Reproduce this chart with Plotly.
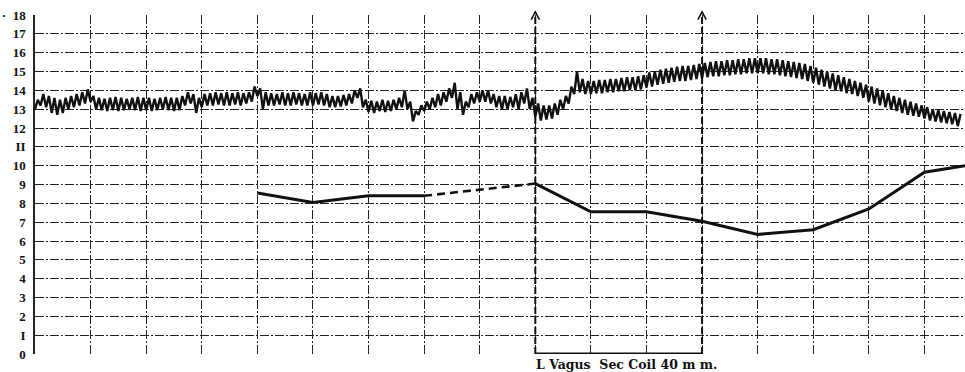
import numpy as np
import plotly.graph_objects as go

# ---- data ----
y_ticks = list(range(0, 19))
y_tick_text = ["0", "I", "2", "3", "4", "5", "6", "7", "8", "9", "10", "II", "12", "13", "14", "15", "16", "17", "·  18"]

# pulse tracing: troughs and crests, ten oscillations per grid unit
pulse_lows = [
    13.0, 13.2, 13.1, 12.8, 12.7, 12.8, 13.0, 13.1, 13.2, 13.3,
    13.4, 13.0, 12.95, 12.9, 12.95, 12.9, 12.95, 13.0, 12.95, 12.9,
    12.95, 12.9, 12.95, 13.0, 12.95, 12.9, 12.95, 13.2, 13.3, 12.8,
    13.1, 13.2, 13.2, 13.25, 13.2, 13.2, 13.25, 13.2, 13.3, 13.4,
    13.7, 13.0, 13.2, 13.2, 13.25, 13.2, 13.2, 13.25, 13.2, 13.2,
    13.2, 13.25, 13.2, 13.1, 13.1, 13.15, 13.2, 13.3, 13.6, 13.1,
    12.85, 12.8, 12.9, 12.85, 12.9, 13.0, 13.1, 13.0, 12.35, 12.7,
    12.9, 13.0, 13.1, 13.2, 13.4, 13.6, 13.0, 12.7, 13.1, 13.3,
    13.4, 13.4, 13.3, 13.1, 13.0, 13.0, 13.1, 13.0, 13.3, 13.0,
    12.6, 12.4, 12.45, 12.5, 12.7, 13.0, 13.3, 13.8, 13.9, 13.8,
    13.8, 13.85, 13.85, 13.9, 13.9, 13.95, 13.95, 14.0, 14.0, 14.05,
    14.15, 14.2, 14.3, 14.35, 14.4, 14.45, 14.5, 14.5, 14.55, 14.6,
    14.65, 14.7, 14.75, 14.75, 14.8, 14.8, 14.85, 14.85, 14.9, 14.9,
    14.9, 14.9, 14.85, 14.85, 14.8, 14.75, 14.7, 14.65, 14.6, 14.5,
    14.4, 14.3, 14.2, 14.1, 14.0, 13.95, 13.85, 13.8, 13.7, 13.6,
    13.4, 13.3, 13.2, 13.1, 13.0, 12.9, 12.8, 12.7, 12.65, 12.6,
    12.5, 12.4, 12.35, 12.3, 12.25, 12.2, 12.1,
]
pulse_highs = [
    13.5, 13.8, 13.7, 13.6, 13.5, 13.6, 13.7, 13.8, 13.9, 14.05,
    13.7, 13.6, 13.55, 13.6, 13.65, 13.6, 13.55, 13.6, 13.65, 13.6,
    13.6, 13.55, 13.6, 13.65, 13.6, 13.6, 13.7, 13.9, 13.8, 13.6,
    13.8, 13.85, 13.9, 13.85, 13.9, 13.85, 13.9, 13.85, 13.9, 14.2,
    14.1, 13.9, 13.85, 13.8, 13.9, 13.85, 13.9, 13.85, 13.8, 13.9,
    13.85, 13.9, 13.8, 13.7, 13.7, 13.75, 13.8, 14.0, 14.1, 13.5,
    13.45, 13.4, 13.5, 13.45, 13.5, 13.6, 14.0, 13.4, 12.9, 13.2,
    13.4, 13.6, 13.8, 13.9, 14.1, 14.4, 13.9, 13.4, 13.8, 13.9,
    14.0, 14.0, 13.8, 13.7, 13.7, 13.65, 13.8, 13.9, 14.1, 13.6,
    13.3, 13.2, 13.2, 13.3, 13.5, 13.7, 14.2, 15.0, 14.6, 14.5,
    14.5, 14.55, 14.55, 14.6, 14.6, 14.65, 14.7, 14.7, 14.75, 14.8,
    14.95, 15.0, 15.1, 15.15, 15.2, 15.25, 15.3, 15.3, 15.35, 15.4,
    15.45, 15.5, 15.55, 15.55, 15.6, 15.6, 15.65, 15.65, 15.7, 15.7,
    15.7, 15.7, 15.65, 15.65, 15.6, 15.55, 15.5, 15.45, 15.4, 15.3,
    15.2, 15.1, 15.0, 14.9, 14.8, 14.7, 14.6, 14.5, 14.4, 14.3,
    14.2, 14.1, 14.0, 13.85, 13.7, 13.6, 13.5, 13.4, 13.3, 13.2,
    13.1, 13.0, 12.95, 12.9, 12.85, 12.8, 12.75,
]
oscillations_per_unit = 10

# lower curve
lower_x = [4, 5, 6, 7, 9, 10, 11, 12, 13, 14, 15, 16, 16.73]
lower_y = [8.55, 8.05, 8.4, 8.4, 9.05, 7.55, 7.55, 7.05, 6.35, 6.6, 7.7, 9.65, 10.0]
dashed_from, dashed_to = 3, 4   # break in the lower curve (dashed part)

stimulus_x = [9, 12]
stimulus_label = "L Vagus  Sec Coil 40 m m."
x_max = 16.73
y_max = 18

# ---- build traces ----
pulse_y = []
for lo, hi in zip(pulse_lows, pulse_highs):
    pulse_y += [lo, hi]
pulse_x = np.arange(len(pulse_y)) / (2 * oscillations_per_unit)

fig = go.Figure()
fig.add_trace(go.Scatter(x=pulse_x, y=pulse_y, mode="lines",
                         line=dict(color="#111", width=2.4), hoverinfo="skip"))

solid_x = lower_x[:dashed_from + 1] + [None] + lower_x[dashed_to:]
solid_y = lower_y[:dashed_from + 1] + [None] + lower_y[dashed_to:]
fig.add_trace(go.Scatter(x=solid_x, y=solid_y, mode="lines", connectgaps=False,
                         line=dict(color="#111", width=3)))
fig.add_trace(go.Scatter(x=lower_x[dashed_from:dashed_to + 1], y=lower_y[dashed_from:dashed_to + 1],
                         mode="lines", line=dict(color="#111", width=2.6, dash="8px,5px")))

shapes = []
for sx in stimulus_x:
    shapes.append(dict(type="line", xref="x", yref="paper", x0=sx, x1=sx, y0=0, y1=1.008,
                       line=dict(color="#111", width=2, dash="7px,3px")))
    shapes.append(dict(type="path", xref="x", yref="paper",
                       path=f"M {sx-0.075},0.986 L {sx},1.009 L {sx+0.075},0.986",
                       line=dict(color="#111", width=1.6)))
shapes.append(dict(type="line", xref="x", yref="y", x0=stimulus_x[0], x1=stimulus_x[1],
                   y0=0, y1=0, line=dict(color="#111", width=3)))

fig.update_layout(
    width=965, height=372,
    margin=dict(l=35, r=0, t=15, b=18),
    paper_bgcolor="white", plot_bgcolor="white",
    showlegend=False,
    shapes=shapes,
    annotations=[dict(x=stimulus_x[0], y=0, xref="x", yref="paper", yshift=-2,
                      text=f"<b>{stimulus_label}</b>", showarrow=False,
                      xanchor="left", yanchor="top", borderpad=0,
                      font=dict(family="DejaVu Serif", size=12.5, color="#111"))],
)
fig.update_xaxes(range=[0, x_max], showticklabels=False, dtick=1, tick0=0,
                 showgrid=True, gridcolor="#222", gridwidth=1.3, griddash="9px,2px,2px,2px",
                 zeroline=False, showline=False)
fig.update_yaxes(range=[0, y_max], tickvals=y_ticks, ticktext=y_tick_text,
                 showgrid=True, gridcolor="#222", gridwidth=1.3, griddash="9px,2px,2px,2px",
                 zeroline=False, showline=True, linecolor="#222", linewidth=1.5,
                 ticks="", ticklabelstandoff=5,
                 tickfont=dict(family="Liberation Serif", size=13, color="#111", weight="bold"))

fig.write_html("out.html")
